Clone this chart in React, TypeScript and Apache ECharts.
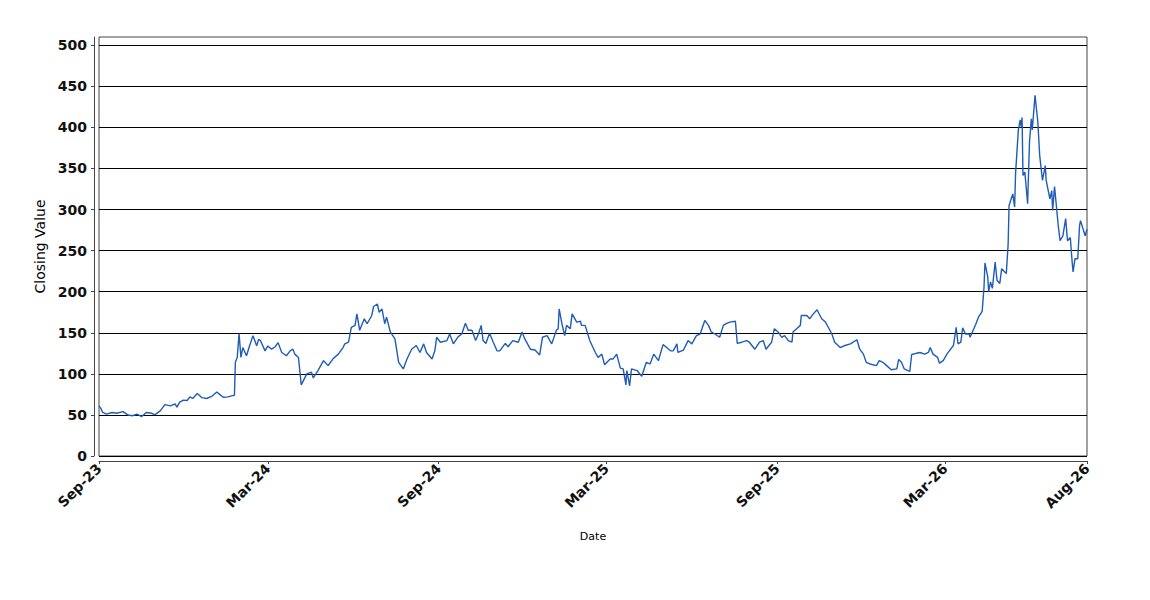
import React, { useEffect, useRef } from "react";
import * as echarts from "echarts";

// Days elapsed since 2023-09-01 for each close
const dayOffsets = [
  0, 2, 4, 8, 14, 19, 26, 31, 36, 41, 46, 51, 57, 60, 66, 71, 77, 82, 84, 87,
  91, 95, 98, 101, 106, 111, 116, 122, 127, 130, 134, 139, 144, 146, 147, 149, 151, 153, 155, 159,
  162, 166, 170, 172, 174, 179, 182, 186, 190, 193, 197, 202, 206, 209, 211, 215, 218, 224, 229, 231,
  236, 242, 247, 252, 258, 263, 265, 269, 272, 276, 278, 281, 286, 289, 294, 296, 300, 302, 305, 308,
  310, 314, 319, 323, 328, 332, 337, 342, 346, 350, 353, 359, 362, 364, 368, 375, 378, 382, 387, 391,
  395, 398, 402, 406, 409, 412, 414, 417, 421, 425, 429, 432, 438, 441, 446, 452, 456, 459, 465, 470,
  475, 478, 483, 488, 493, 495, 496, 499, 502, 504, 508, 510, 515, 519, 520, 524, 529, 535, 538, 542,
  545, 551, 554, 558, 562, 565, 568, 569, 572, 574, 580, 585, 590, 594, 598, 603, 608, 612, 616, 619,
  623, 624, 630, 635, 639, 644, 648, 653, 657, 660, 664, 669, 673, 676, 680, 686, 688, 693, 698, 701,
  707, 712, 716, 719, 725, 728, 732, 736, 739, 743, 747, 748, 752, 756, 757, 763, 766, 770, 774, 779,
  783, 786, 790, 793, 799, 804, 810, 817, 820, 824, 827, 831, 838, 841, 845, 849, 854, 860, 862, 865,
  868, 872, 874, 876, 881, 885, 890, 894, 896, 899, 904, 906, 910, 914, 918, 921, 924, 926, 929, 931,
  934, 938, 939, 945, 948, 952, 954, 955, 958, 959, 961, 963, 966, 968, 971, 973, 978, 980, 981, 985,
  987, 988, 991, 993, 994, 995, 996, 998, 1001, 1003, 1005, 1006, 1009, 1012, 1014, 1017, 1020, 1021, 1025, 1027,
  1028, 1030, 1034, 1036, 1039, 1042, 1044, 1047, 1049, 1050, 1052, 1055, 1057, 1058, 1063, 1065,
];

const closes = [
  61, 58, 53, 51, 53, 52, 54, 50, 49, 51, 48, 53, 52, 50, 55, 62.5, 61, 63.5, 59.5, 65.5,
  68, 67.5, 72, 70, 76, 71, 70, 73, 78, 75, 71.5, 72, 73.5, 74, 114, 120, 149, 120, 132, 122,
  133, 146.5, 134, 142, 140.5, 128, 134, 130, 133, 138, 126, 122, 128, 130, 124, 120, 86.5, 100, 102, 95,
  104, 116, 110, 118, 124, 132, 136.5, 138.5, 156.5, 159, 173, 153, 167, 161, 171, 182, 185, 175, 179, 161,
  169, 151, 142.5, 114, 106, 118, 130, 134.5, 126, 136.5, 126, 118, 128, 144.5, 138.5, 140.5, 148.5, 136.5, 145, 148.5,
  161.5, 153, 153, 140.5, 148.5, 159, 140.5, 137, 149.5, 138.5, 128, 128, 137, 133, 140.5, 138.5, 151, 142.5, 130, 129,
  123, 144.5, 146.5, 136.5, 153, 155, 179, 161, 146.5, 159, 155, 173, 163, 164, 159, 159, 140.5, 126, 120, 124,
  111, 118, 118, 124, 107, 106, 86.5, 104, 85.5, 106, 104, 97, 114, 112, 124, 116, 135.5, 132, 128, 128,
  136.5, 126, 129, 140.5, 136.5, 146.5, 148.5, 165, 159, 151, 148.5, 144.5, 159, 161, 163, 164, 137, 138.5, 140.5, 138.5,
  130, 138.5, 140.5, 130, 138.5, 155, 151, 144.5, 146.5, 140.5, 138.5, 151, 155, 159, 171, 171, 167, 173, 178, 167,
  163, 157, 148.5, 138.5, 132, 134.5, 136.5, 141.5, 130, 124, 114, 112, 110, 116, 114, 110, 105, 106, 117.5, 114,
  106, 104, 103, 123.5, 125, 126, 124, 126, 132, 124, 120, 113, 116, 124, 130, 134.5, 156.5, 136.5, 138.5, 156,
  148.5, 148.5, 144.5, 160, 169, 176, 205.5, 235, 218, 200, 212, 204, 236, 214, 210, 228, 222, 258, 305, 319,
  303, 344, 397, 409, 401, 412, 341.5, 345.5, 307, 382, 410.5, 397, 439, 406.5, 366, 335.5, 353.5, 335.5, 313, 323,
  299, 328, 280.5, 262, 268, 289, 262, 266, 236, 224, 240, 240, 280.5, 286.5, 268, 276,
];

// Tick positions (days since 2023-09-01) and their labels
const tickDays = [0, 182, 366, 547, 731, 912, 1065];
const tickLabels = ["Sep-23", "Mar-24", "Sep-24", "Mar-25", "Sep-25", "Mar-26", "Aug-26"];
const yTicks = [0, 50, 100, 150, 200, 250, 300, 350, 400, 450, 500];

const FONT = "DejaVu Sans";

export default function App() {
  const ref = useRef<HTMLDivElement>(null);
  useEffect(() => {
    if (!ref.current) return;
    const chart = echarts.init(ref.current, undefined, { renderer: "svg" });
    const data = dayOffsets.map((d, i) => [d, closes[i]]);
    chart.setOption({
      animation: false,
      backgroundColor: "#ffffff",
      textStyle: { fontFamily: FONT },
      grid: {
        left: 99,
        right: 63,
        top: 37,
        bottom: 144,
        show: true,
        borderColor: "#444444",
        borderWidth: 1,
        backgroundColor: "#ffffff",
      },
      xAxis: {
        type: "value",
        min: 0,
        max: 1065,
        offset: 5,
        name: "Date",
        nameLocation: "middle",
        nameGap: 70,
        nameTextStyle: { fontFamily: FONT, fontSize: 11, color: "#000" },
        axisLine: { show: true, onZero: false, lineStyle: { color: "#444444", width: 1 } },
        axisTick: {
          show: true,
          length: 3,
          customValues: tickDays,
          lineStyle: { color: "#444444" },
        },
        axisLabel: {
          customValues: tickDays,
          rotate: 45,
          margin: 5,
          fontFamily: FONT,
          fontSize: 14,
          fontWeight: "bold",
          color: "#111",
          formatter: (v: number) => {
            const idx = tickDays.indexOf(Math.round(v));
            return idx >= 0 ? tickLabels[idx] : "";
          },
        },
        splitLine: { show: false },
      },
      yAxis: {
        type: "value",
        min: 0,
        max: 510,
        interval: 50,
        offset: 5,
        name: "Closing Value",
        nameLocation: "middle",
        nameGap: 42,
        nameRotate: 90,
        nameTextStyle: { fontFamily: FONT, fontSize: 14, color: "#000" },
        axisLine: { show: true, onZero: false, lineStyle: { color: "#444444", width: 1 } },
        axisTick: {
          show: true,
          length: 3,
          customValues: yTicks,
          lineStyle: { color: "#444444" },
        },
        axisLabel: {
          customValues: yTicks,
          margin: 7,
          fontFamily: FONT,
          fontSize: 14,
          fontWeight: "bold",
          color: "#111",
        },
        splitLine: { show: true, lineStyle: { color: "#000000", width: 1 } },
      },
      series: [
        {
          type: "line",
          data,
          showSymbol: false,
          symbol: "none",
          lineStyle: { color: "#1f5cb8", width: 1.4 },
        },
      ],
    });
    return () => chart.dispose();
  }, []);
  return (
    <div
      ref={ref}
      style={{ position: "fixed", left: 0, top: 0, width: 1150, height: 600, background: "#fff" }}
    />
  );
}
